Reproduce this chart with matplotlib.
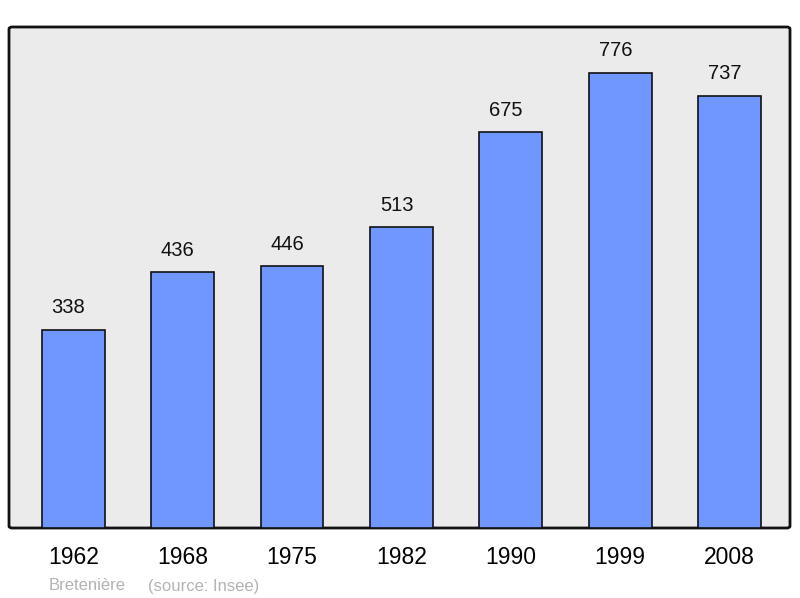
import matplotlib
matplotlib.use("Agg")
import matplotlib.pyplot as plt
from matplotlib.patches import FancyBboxPatch

years = ["1962", "1968", "1975", "1982", "1990", "1999", "2008"]
population = [338, 436, 446, 513, 675, 776, 737]
commune = "Bretenière"
source = "(source: Insee)"

plt.rcParams['font.family'] = ['Liberation Sans', 'DejaVu Sans']

fig = plt.figure(figsize=(8, 5.98), dpi=100)
ax = fig.add_axes([9/800, 70/598, 781/800, 501/598])
ax.set_facecolor("none")
for s in ax.spines.values():
    s.set_visible(False)

frame = FancyBboxPatch((0, 0), 1, 1, boxstyle="round,pad=0,rounding_size=0.004",
                       transform=ax.transAxes, facecolor="#ebebeb", edgecolor="#111111",
                       linewidth=2, zorder=0, clip_on=False)
ax.add_patch(frame)

x = list(range(len(years)))
bars = ax.bar(x, population, width=0.575, color="#7096ff", edgecolor="#111111",
              linewidth=1.2, zorder=2)
for xi, v in zip(x, population):
    ax.annotate(str(v), (xi, v), xytext=(-3.5, 9), textcoords="offset points",
                ha="center", va="bottom", fontsize=14.5, color="#111111")

ax.set_xlim(-0.588, 6.553)
ax.set_ylim(0, 854)
ax.set_yticks([])
ax.set_xticks(x)
ax.set_xticklabels(years, fontsize=16.5)
ax.tick_params(axis="x", length=0, pad=13)

fig.text(49/800, 1 - 586/598, commune, fontsize=12, color="#b3b3b3",
         ha="left", va="center")
fig.text(148/800, 1 - 586/598, source, fontsize=12, color="#b3b3b3",
         ha="left", va="center")

fig.savefig("out.png", dpi=100)
